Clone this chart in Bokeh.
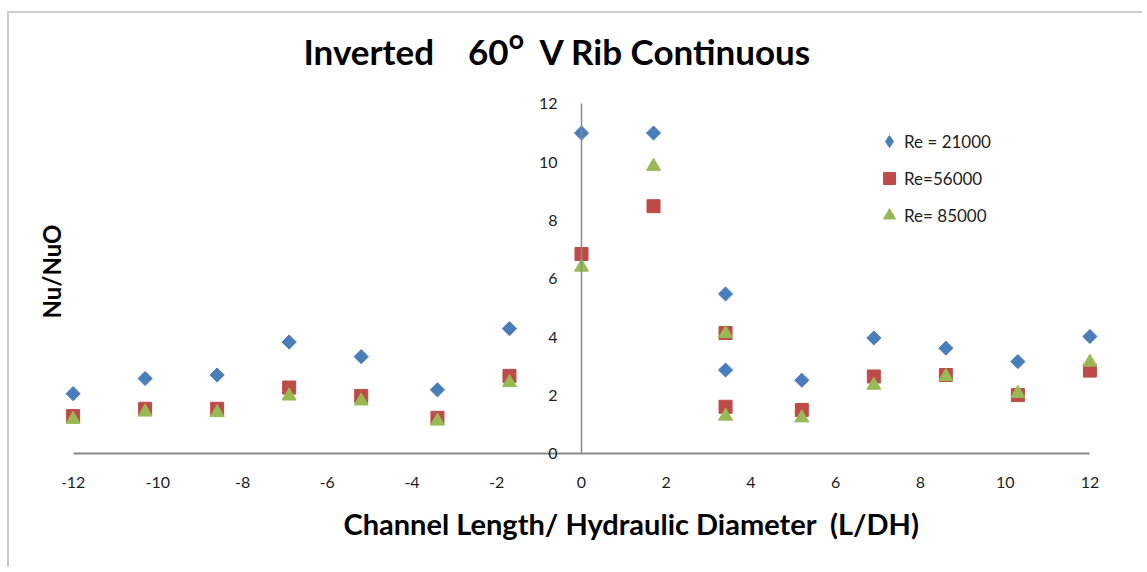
import numpy as np
from bokeh.plotting import figure
from bokeh.models import Range1d, FixedTicker, LinearAxis, Title, Legend, LegendItem
from bokeh.embed import file_html
from bokeh.resources import INLINE

# ---- data ----
x_ticks = [-12, -10, -8, -6, -4, -2, 0, 2, 4, 6, 8, 10, 12]
y_ticks = [0, 2, 4, 6, 8, 10, 12]

l_over_dh = [-12, -10.3, -8.6, -6.9, -5.2, -3.4, -1.7, 0, 1.7, 3.4, 3.4, 5.2, 6.9, 8.6, 10.3, 12]
re21000 = [2.06, 2.58, 2.70, 3.83, 3.33, 2.19, 4.29, 11.0, 11.0, 5.48, 2.87, 2.52, 3.97, 3.62, 3.16, 4.02]
re56000 = [1.29, 1.54, 1.54, 2.27, 1.98, 1.23, 2.67, 6.85, 8.49, 4.14, 1.61, 1.50, 2.65, 2.70, 2.01, 2.85]
re85000 = [1.18, 1.43, 1.41, 1.98, 1.81, 1.12, 2.44, 6.40, 9.86, 4.12, 1.29, 1.23, 2.35, 2.65, 2.07, 3.14]

series_names = ["Re = 21000", "Re=56000", "Re= 85000"]

FONT = "Lato"
TXT = "#1e1e1e"
NB = "\u00a0"

p = figure(width=1135, height=556,
           x_range=Range1d(-12.25, 12.25), y_range=Range1d(-1.4, 12.7),
           output_backend="svg", toolbar_location=None,
           y_axis_location=None,
           min_border_left=53, min_border_right=44,
           min_border_top=70, min_border_bottom=75)
p.styles = {"border-top": "2px solid #cccccc", "border-left": "2px solid #cccccc",
            "margin-top": "11px", "margin-left": "7px"}
p.grid.visible = False
p.outline_line_color = None

# title
p.title.text = "Inverted" + NB * 4 + "60\u1D3C" + NB * 2 + "V Rib Continuous"
p.title.align = "left"
p.title.offset = 241
p.title.text_font = FONT
p.title.text_font_size = "35px"
p.title.text_font_style = "bold"
p.title.text_color = "black"
p.title.standoff = 23

# x axis, drawn at y = 0
xa = p.xaxis[0]
xa.fixed_location = 0
xa.ticker = FixedTicker(ticks=x_ticks)
xa.major_label_overrides = {t: str(t) for t in x_ticks}
xa.bounds = (-12, 12)
xa.major_tick_line_color = None
xa.minor_tick_line_color = None
xa.axis_line_color = "#8a8a8a"
xa.axis_line_width = 2
xa.major_label_standoff = 17
xa.major_label_text_font = FONT
xa.major_label_text_font_size = "16px"
xa.major_label_text_color = TXT

# y axis crossing at x = 0
ya = LinearAxis(fixed_location=0, ticker=FixedTicker(ticks=y_ticks), bounds=(0, 12))
ya.major_tick_line_color = None
ya.minor_tick_line_color = None
ya.axis_line_color = "#8a8a8a"
ya.axis_line_width = 1.5
ya.major_label_standoff = 18
ya.major_label_text_font = FONT
ya.major_label_text_font_size = "16px"
ya.major_label_text_color = TXT
p.add_layout(ya, "left")

# axis titles
p.add_layout(Title(text="Nu/NuO", align="left", offset=176, text_font=FONT,
                   text_font_size="24px", text_font_style="bold", text_color="black",
                   standoff=-6), "left")
p.add_layout(Title(text="Channel Length/ Hydraulic Diameter" + NB * 2 + "(L/DH)", align="left",
                   offset=281, text_font=FONT, text_font_size="29px", text_font_style="bold",
                   text_color="black", standoff=18), "below")

# points
r1 = p.scatter(l_over_dh, re21000, marker="square", angle=np.pi / 4, size=10,
               fill_color="#4A7EBB", line_color="#4A7EBB")
r2 = p.scatter(l_over_dh, re56000, marker="square", size=13,
               fill_color="#BE4B48", line_color="#BE4B48")
r3 = p.scatter(l_over_dh, re85000, marker="triangle", size=14,
               fill_color="#98B954", line_color="#98B954")
# legend swatch for the diamond series (the legend does not rotate markers)
r1_key = p.scatter(x=[np.nan], y=[np.nan], marker="diamond", size=12,
                   fill_color="#4A7EBB", line_color="#4A7EBB")

legend = Legend(items=[LegendItem(label=series_names[0], renderers=[r1_key]),
                       LegendItem(label=series_names[1], renderers=[r2]),
                       LegendItem(label=series_names[2], renderers=[r3])],
                location=(812, 264), border_line_color=None, background_fill_alpha=0,
                label_text_font=FONT, label_text_font_size="17px", label_text_color=TXT,
                glyph_height=30, glyph_width=30, label_height=30, spacing=7,
                padding=5, label_standoff=-11, margin=0)
p.add_layout(legend)

open("out.html", "w").write(file_html(p, INLINE))
